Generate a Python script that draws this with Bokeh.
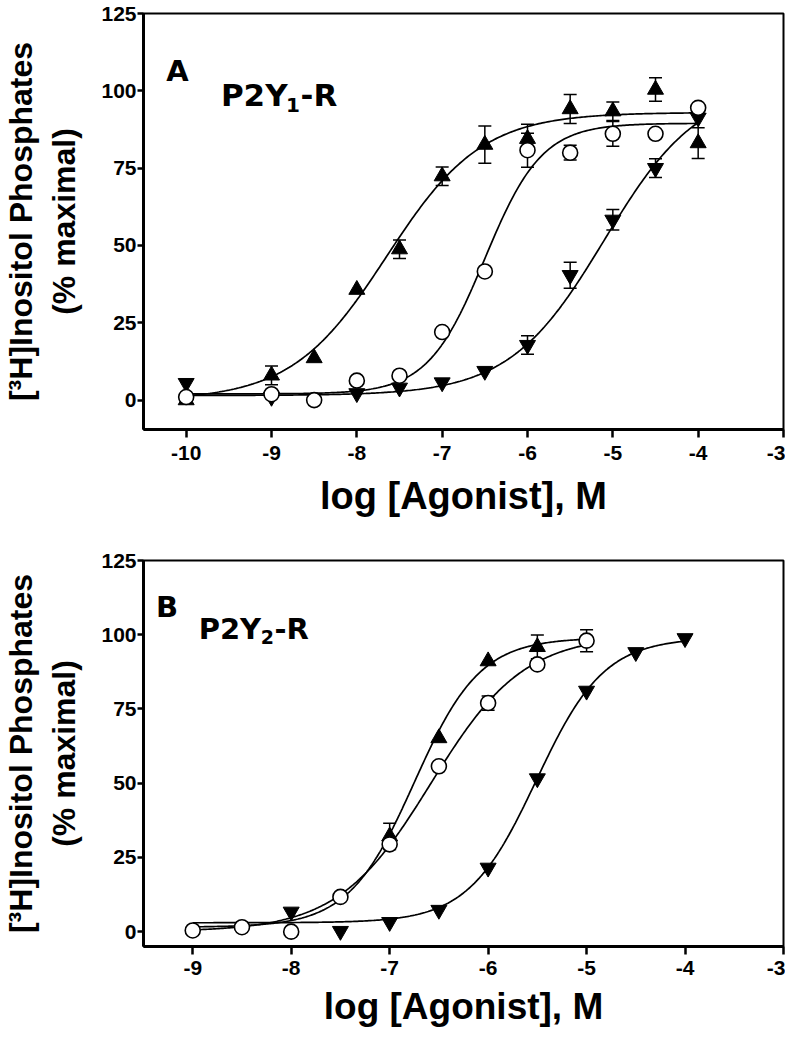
import numpy as np
from bokeh.plotting import figure
from bokeh.models import (ColumnDataSource, Whisker, TeeHead, FixedTicker, Label,
                          Range1d, CustomJSTickFormatter)
from bokeh.layouts import column
from bokeh.embed import file_html
from bokeh.resources import INLINE

# ---------------- Panel A : P2Y1-R ----------------
a_up_x = [-10, -9, -8.5, -8, -7.5, -7, -6.5, -6, -5.5, -5, -4.5, -4]
a_up_y = [0, 8, 13.6, 35.7, 48.8, 72.4, 82.6, 84.5, 94.1, 93.4, 100.4, 83.1]
a_up_e = [0, 3, 0, 0, 3, 3, 6, 4.7, 4.7, 3, 3.8, 5]

a_ci_x = [-10, -9, -8.5, -8, -7.5, -7, -6.5, -6, -5.5, -5, -4.5, -4]
a_ci_y = [1, 1.9, 0, 6.3, 7.9, 22, 41.6, 80.8, 80, 86.1, 86.1, 94.5]
a_ci_e = [0, 0, 0, 0, 0, 0, 0, 5.5, 2.4, 4, 0, 0]

a_dn_x = [-10, -9, -8, -7.5, -7, -6.5, -6, -5.5, -5, -4.5, -4]
a_dn_y = [5.5, 1, 2.2, 4, 5.7, 9.4, 17.8, 40.4, 58.3, 75, 91.3]
a_dn_e = [0, 0, 0, 0, 0, 0, 3, 4.2, 3.3, 3, 0]

# fitted curve parameters: bottom, top, logEC50, hill, x from, x to
a_up_fit = [0, 93, -7.65, 0.78, -10, -4]
a_ci_fit = [2, 89.5, -6.5, 1.3, -10, -4]
a_dn_fit = [1.5, 102, -5.1, 0.78, -10, -4]

a_xticks = [-10, -9, -8, -7, -6, -5, -4, -3]

# ---------------- Panel B : P2Y2-R ----------------
b_up_x = [-7, -6.5, -6, -5.5]
b_up_y = [32.1, 65.2, 91.1, 95.9]
b_up_e = [4.4, 0, 0, 4]

b_ci_x = [-9, -8.5, -8, -7.5, -7, -6.5, -6, -5.5, -5]
b_ci_y = [0.4, 1.5, 0, 11.7, 29.4, 55.7, 77, 90, 98]
b_ci_e = [0, 0, 0, 0, 0, 0, 2.4, 0, 3.7]

b_dn_x = [-8, -7.5, -7, -6.5, -6, -5.5, -5, -4.5, -4]
b_dn_y = [6.7, 0.2, 3.2, 7.3, 21.5, 51.6, 81.1, 94.1, 98.8]
b_dn_e = [0, 0, 0, 0, 0, 0, 0, 0, 0]

b_up_fit = [1.5, 99, -6.75, 1.3, -9, -5]
b_ci_fit = [0, 100, -6.58, 0.92, -9, -5]
b_dn_fit = [3, 99, -5.51, 1.26, -9, -4]

b_xticks = [-9, -8, -7, -6, -5, -4, -3]
y_ticks = [0, 25, 50, 75, 100, 125]

FONT = "Liberation Sans"
WIDE = "DejaVu Sans"


def curve(fit):
    bottom, top, ec50, hill, x0, x1 = fit
    xs = np.linspace(x0, x1, 300)
    ys = bottom + (top - bottom) / (1.0 + 10.0 ** ((ec50 - xs) * hill))
    return xs, ys


def whiskers(p, xs, ys, es):
    sel = [(x, y, e) for x, y, e in zip(xs, ys, es) if e > 0]
    if not sel:
        return
    src = ColumnDataSource(dict(
        base=[s[0] for s in sel],
        upper=[s[1] + s[2] for s in sel],
        lower=[s[1] - s[2] for s in sel]))
    w = Whisker(base="base", upper="upper", lower="lower", source=src,
                dimension="height", line_width=1.5, line_color="black",
                upper_head=TeeHead(size=13, line_width=1.5, line_color="black"),
                lower_head=TeeHead(size=13, line_width=1.5, line_color="black"))
    p.add_layout(w)


def make_panel(height, top_b, bottom_b, xr, ymin, xticks, series, fits, xlabel_size,
               xlabel_standoff, tick_standoff):
    p = figure(width=785, height=height, x_range=Range1d(*xr),
               y_range=Range1d(ymin, 125),
               output_backend="svg", toolbar_location=None,
               min_border_left=137, min_border_right=2,
               min_border_top=top_b, min_border_bottom=bottom_b)
    p.grid.visible = False
    p.outline_line_color = "black"
    p.outline_line_width = 2
    p.background_fill_color = "white"
    p.border_fill_color = "white"

    for f in fits:
        xs, ys = curve(f)
        p.line(xs, ys, line_color="black", line_width=1.7)

    for (xs, ys, es, kind) in series:
        whiskers(p, xs, ys, es)
    for (xs, ys, es, kind) in series:
        if kind == "circle":
            p.scatter(xs, ys, marker="circle", size=15, fill_color="white",
                      line_color="black", line_width=1.6)
        else:
            p.scatter(xs, ys, marker=kind, size=16, fill_color="black",
                      line_color="black", line_width=1)

    xa = p.xaxis[0]
    xa.ticker = FixedTicker(ticks=xticks)
    xa.formatter = CustomJSTickFormatter(code="return tick.toFixed(0);")
    xa.axis_label = "log [Agonist], M"
    xa.axis_label_text_font = FONT
    xa.axis_label_text_font_style = "bold"
    xa.axis_label_text_font_size = f"{xlabel_size}px"
    xa.axis_label_standoff = xlabel_standoff
    xa.major_label_standoff = tick_standoff

    ya = p.yaxis[0]
    ya.ticker = FixedTicker(ticks=y_ticks)
    ya.axis_label = "[³H]Inositol Phosphates\n(% maximal)"
    ya.axis_label_text_font = FONT
    ya.axis_label_text_font_style = "bold"
    ya.axis_label_text_font_size = "32px"
    ya.axis_label_standoff = 16
    ya.major_label_standoff = 1

    for ax in (xa, ya):
        ax.axis_line_width = 3
        ax.axis_line_color = "black"
        ax.major_tick_in = 0
        ax.major_tick_line_width = 2.5
        ax.major_tick_line_color = "black"
        ax.minor_tick_line_color = None
        ax.major_label_text_font = FONT
        ax.major_label_text_font_style = "bold"
        ax.major_label_text_font_size = "21px"
        ax.major_label_text_color = "black"
        ax.axis_label_text_color = "black"
    xa.major_tick_out = 8
    ya.major_tick_out = 6
    return p


def add_text(p, x, y, text, size):
    p.add_layout(Label(x=x, y=y, text=text, text_font=WIDE,
                       text_font_style="bold", text_font_size=f"{size}px",
                       text_color="black", text_baseline="alphabetic",
                       text_align="left"))


pA = make_panel(526, 13, 97, (-10.5, -3), -9.5, a_xticks,
                [(a_up_x, a_up_y, a_up_e, "triangle"),
                 (a_dn_x, a_dn_y, a_dn_e, "inverted_triangle"),
                 (a_ci_x, a_ci_y, a_ci_e, "circle")],
                [a_up_fit, a_ci_fit, a_dn_fit], 38, 12, 8)
add_text(pA, -10.233, 106.4, "A", 29)
add_text(pA, -9.593, 98.5, "P2Y", 31)
add_text(pA, -8.83, 95.3, "1", 20)
add_text(pA, -8.66, 98.5, "-R", 31)

pB = make_panel(508, 34, 88, (-9.5, -3), -5, b_xticks,
                [(b_dn_x, b_dn_y, b_dn_e, "inverted_triangle"),
                 (b_up_x, b_up_y, b_up_e, "triangle"),
                 (b_ci_x, b_ci_y, b_ci_e, "circle")],
                [b_up_fit, b_ci_fit, b_dn_fit], 37, 8, 6)
add_text(pB, -9.373, 109.2, "B", 29)
add_text(pB, -8.94, 101.8, "P2Y", 29)
add_text(pB, -8.31, 99.3, "2", 19)
add_text(pB, -8.17, 101.8, "-R", 29)

layout = column(pA, pB)
open("out.html", "w").write(file_html(layout, INLINE))
